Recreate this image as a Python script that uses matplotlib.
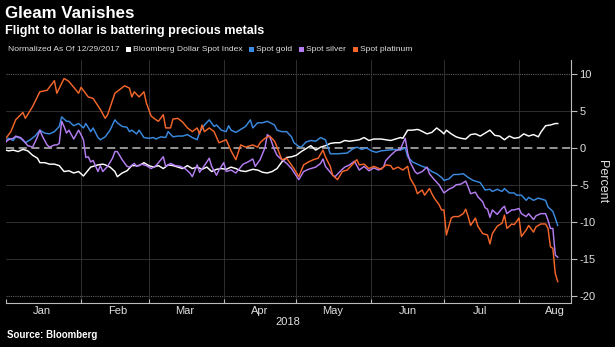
import matplotlib
matplotlib.use("Agg")
import matplotlib.pyplot as plt
import matplotlib.dates as mdates
from matplotlib.patches import Rectangle
import pandas as pd

# Series: calendar-day offsets from 2018-01-01 and percent change vs 12/29/2017
dollar_day = [-3, 1, 3, 5, 7, 9, 11, 13, 14, 16, 18, 20, 22, 24, 26, 28, 30, 32, 34, 35, 38, 40, 41, 43, 45,
              46, 48, 50, 52, 53, 55, 57, 59, 61, 63, 65, 67, 69, 71, 73, 75, 77, 79, 81, 83, 85, 87, 89, 91,
              93, 95, 97, 99, 102, 104, 106, 108, 110, 112, 114, 116, 118, 120, 122, 124, 126, 128, 130, 132,
              134, 136, 138, 140, 142, 144, 146, 148, 150, 152, 155, 157, 159, 161, 163, 164, 166, 168, 170,
              171, 174, 176, 178, 180, 181, 182, 184, 186, 188, 190, 192, 194, 196, 198, 200, 202, 204, 206,
              208, 210, 212, 214, 216, 218, 220, 221, 223, 225, 227, 228]
dollar_pct = [0, -0.4, -0.3, -0.5, -0.2, -0.4, -1.0, -1.4, -2.0, -2.0, -2.2, -2.2, -2.4, -3.2, -3.1, -3.4,
              -3.2, -3.8, -3.0, -2.6, -2.3, -2.2, -2.3, -2.6, -3.2, -3.9, -3.4, -3.1, -2.4, -2.4, -2.4, -2.0,
              -2.4, -2.6, -2.4, -2.8, -2.3, -2.4, -2.6, -2.8, -2.4, -2.8, -2.6, -2.9, -2.6, -3.2, -2.9, -2.8,
              -2.9, -2.6, -2.8, -3.1, -3.2, -2.9, -3.0, -3.3, -3.4, -3.2, -2.8, -1.9, -1.3, -1.2, -1.0, -0.5,
              -0.1, 0.3, -0.3, 0.1, 0.3, 0.6, 0.7, 0.7, 1.0, 0.9, 1.0, 1.1, 1.4, 1.0, 1.2, 1.2, 1.1, 1.0, 1.2,
              1.4, 1.3, 2.4, 2.4, 2.5, 2.4, 1.9, 2.1, 2.7, 2.2, 1.9, 2.4, 1.9, 1.5, 1.3, 1.2, 1.8, 1.9, 1.6,
              2.0, 2.4, 1.7, 1.6, 1.1, 1.6, 1.3, 1.4, 1.9, 1.6, 1.8, 1.5, 2.1, 3.0, 3.1, 3.3, 3.3]

gold_day = [-3, 1, 3, 4, 6, 8, 10, 12, 14, 16, 18, 20, 22, 23, 25, 26, 28, 30, 32, 33, 35, 36, 38, 39, 41,
            43, 45, 46, 48, 50, 51, 52, 54, 55, 57, 59, 61, 62, 64, 66, 67, 69, 71, 73, 75, 77, 79, 80, 82,
            84, 86, 87, 89, 91, 92, 93, 95, 97, 99, 101, 102, 104, 106, 108, 111, 112, 114, 116, 118, 119,
            121, 122, 124, 126, 128, 130, 132, 134, 137, 141, 143, 145, 147, 149, 151, 153, 155, 158, 161,
            163, 165, 166, 168, 170, 172, 174, 176, 178, 180, 181, 183, 185, 187, 189, 191, 193, 196, 198,
            200, 201, 203, 205, 206, 208, 210, 211, 213, 215, 216, 218, 220, 222, 223, 224, 226, 227, 228]
gold_pct = [0, 1.3, 1.0, 1.5, 1.3, 0.7, 1.1, 1.6, 2.4, 2.0, 1.9, 2.2, 2.9, 4.2, 3.6, 3.6, 3.0, 3.3, 2.7,
            3.3, 2.2, 2.7, 1.4, 1.1, 1.5, 2.4, 3.8, 3.4, 2.9, 2.8, 2.2, 2.4, 1.9, 2.4, 1.4, 1.3, 1.4, 1.2,
            1.5, 1.4, 2.2, 1.5, 1.6, 1.6, 1.8, 1.4, 1.1, 2.1, 3.1, 3.8, 2.9, 3.1, 2.4, 2.2, 3.0, 2.4, 2.1,
            2.5, 2.9, 3.8, 2.7, 3.4, 3.4, 3.6, 3.1, 2.4, 2.2, 2.2, 1.5, 0.7, 0.2, 0.1, 0.8, 1.0, 0.9, 1.4,
            1.1, -0.8, -0.8, -0.7, -0.2, 0.1, -0.2, 0.0, -0.4, -0.6, -0.4, -0.3, -0.2, -0.3, 0.0, -1.2, -1.9,
            -2.2, -2.5, -2.7, -3.2, -3.5, -4.0, -4.4, -4.2, -3.6, -3.6, -3.5, -4.0, -4.4, -4.7, -5.7, -5.6,
            -5.9, -5.6, -5.9, -5.5, -6.1, -6.1, -6.4, -6.4, -7.1, -6.7, -7.1, -6.8, -7.0, -7.1, -8.0, -8.6,
            -9.5, -10.5]

silver_day = [-3, 1, 3, 4, 6, 7, 9, 11, 13, 14, 15, 17, 18, 20, 21, 22, 23, 24, 25, 26, 28, 30, 31, 32, 33,
              34, 35, 36, 38, 39, 40, 42, 44, 45, 46, 48, 50, 51, 53, 54, 56, 58, 60, 62, 64, 65, 66, 68, 70,
              72, 74, 76, 77, 79, 80, 82, 84, 85, 87, 88, 90, 91, 93, 95, 96, 98, 100, 102, 103, 105, 107,
              108, 109, 111, 112, 114, 116, 118, 121, 123, 125, 128, 130, 131, 132, 135, 136, 138, 140, 142,
              144, 146, 148, 150, 152, 154, 156, 157, 159, 161, 163, 164, 165, 166, 167, 169, 170, 172, 174,
              175, 177, 179, 181, 183, 185, 186, 188, 190, 191, 192, 194, 195, 197, 198, 199, 200, 201, 203,
              205, 206, 207, 209, 210, 212, 213, 215, 216, 218, 219, 221, 223, 224, 225, 226, 227, 228]
silver_pct = [0, 1.1, 1.3, 1.6, 1.4, 1.1, 0.3, 0.1, 1.5, 2.4, 1.6, 0.4, 0.1, 0.4, 0.4, 0.6, 3.6, 2.9, 2.0,
              2.4, 1.2, 2.4, 1.8, 1.1, -1.3, -1.2, -1.9, -1.7, -3.2, -2.4, -3.2, -2.5, -1.4, -0.5, -0.5, -1.6,
              -2.5, -2.6, -2.1, -2.5, -2.2, -2.4, -2.8, -2.4, -1.6, -1.2, -2.5, -2.1, -2.4, -2.5, -2.8, -3.4,
              -3.9, -2.3, -3.3, -2.4, -1.4, -2.5, -3.7, -3.0, -2.0, -3.2, -3.0, -3.4, -3.0, -2.2, -1.9, -1.5,
              -2.5, -1.6, 0.0, 1.8, 1.5, -0.3, -1.0, -1.6, -2.1, -2.8, -4.3, -3.2, -2.9, -2.6, -2.1, -1.5,
              -2.5, -3.7, -3.9, -3.2, -2.6, -2.3, -1.8, -3.0, -2.5, -3.1, -2.7, -3.0, -2.6, -1.7, -1.0, -0.4,
              -0.2, 0.6, 1.3, -0.7, -1.9, -3.2, -3.5, -3.2, -2.6, -3.5, -4.3, -5.0, -6.1, -5.6, -5.3, -5.0,
              -4.9, -4.5, -5.3, -6.2, -6.0, -6.6, -7.3, -8.1, -8.3, -9.4, -8.4, -9.0, -8.2, -7.9, -8.9, -8.4,
              -8.4, -8.2, -8.9, -9.3, -8.9, -9.7, -9.2, -8.9, -8.9, -9.8, -10.9, -10.9, -14.5, -14.8]

platinum_day = [-3, 2, 4, 7, 8, 11, 14, 17, 20, 21, 24, 26, 30, 31, 34, 36, 39, 41, 42, 45, 49, 51, 52, 53,
                55, 57, 58, 60, 62, 63, 65, 66, 68, 69, 71, 73, 75, 77, 79, 80, 81, 82, 84, 86, 88, 91, 93,
                95, 97, 99, 102, 104, 105, 107, 109, 111, 112, 114, 116, 119, 121, 123, 125, 127, 129, 131,
                132, 134, 135, 137, 139, 141, 143, 145, 146, 148, 150, 152, 155, 157, 159, 160, 162, 164, 166,
                167, 169, 170, 172, 173, 175, 176, 177, 179, 180, 181, 182, 184, 185, 187, 189, 190, 191, 192,
                194, 195, 197, 199, 200, 201, 203, 205, 206, 207, 209, 210, 212, 213, 215, 216, 218, 219, 221,
                223, 224, 225, 226, 227, 228]
platinum_pct = [0, 2.2, 3.8, 4.8, 4.0, 5.6, 7.6, 7.8, 9.1, 7.4, 9.4, 9.0, 7.4, 8.2, 6.9, 6.7, 5.2, 4.0, 4.5,
                7.4, 8.4, 8.1, 6.9, 7.6, 6.9, 7.6, 6.1, 4.3, 3.8, 3.6, 4.5, 2.7, 2.7, 3.9, 4.0, 3.5, 2.7, 2.2,
                2.7, 1.9, 3.1, 2.2, 2.7, 2.2, 0.7, 1.1, -0.4, -1.6, 0.4, 0.1, 0.4, 0.1, 0.7, 1.3, 1.6, 0.9,
                0.1, -1.6, -1.4, -2.8, -3.9, -2.3, -1.9, -1.6, -1.4, -0.3, -1.2, -2.5, -3.7, -4.3, -3.2, -3.0,
                -2.3, -1.6, -2.3, -2.2, -2.8, -2.5, -2.9, -2.3, -2.4, -2.9, -2.6, -3.0, -2.5, -4.1, -5.2, -6.2,
                -5.7, -6.4, -5.5, -6.2, -6.8, -7.7, -8.4, -8.4, -11.8, -9.5, -9.3, -9.3, -8.9, -8.3, -9.3,
                -10.5, -9.5, -10.6, -11.6, -11.8, -13.0, -11.6, -10.6, -10.2, -9.1, -10.9, -10.3, -10.4, -9.5,
                -12.0, -11.1, -10.5, -11.4, -10.7, -10.3, -10.3, -10.9, -13.4, -13.6, -17.0, -18.1]

series_names = ["Bloomberg Dollar Spot Index", "Spot gold", "Spot silver", "Spot platinum"]
series_colors = ["#ffffff", "#3a8ae0", "#b47ef2", "#f4662a"]
y_ticks = [10, 5, 0, -5, -10, -15, -20]

BASE = pd.Timestamp("2018-01-01")


def to_dates(days):
    return [BASE + pd.Timedelta(days=d) for d in days]


plt.rcParams["font.family"] = ["Liberation Sans", "DejaVu Sans"]

BG = "#000000"
GRID = "#363636"
TXT = "#e0e0e0"
W, H = 615, 347

fig = plt.figure(figsize=(W / 100, H / 100), dpi=100, facecolor=BG)
ax = fig.add_axes([6 / W, 1 - 303 / H, 565 / W, 243 / H])
ax.set_facecolor(BG)

for days, vals, col in zip([dollar_day, gold_day, silver_day, platinum_day],
                           [dollar_pct, gold_pct, silver_pct, platinum_pct], series_colors):
    ax.plot(to_dates(days), vals, color=col, lw=1.05, zorder=3)

ax.set_xlim(BASE, BASE + pd.Timedelta(days=233.5))
ax.set_ylim(-21.0, 11.9)

# horizontal gridlines; zero line dashed, outer ones dotted
for v in y_ticks:
    if v == 0:
        ax.axhline(v, color="#a0a0a0", lw=1.3, ls=(0, (4.5, 2.5)), zorder=2)
    elif v in (10, -20):
        ax.axhline(v, color="#606060", lw=0.8, ls=(0, (1, 1)), zorder=1)
    else:
        ax.axhline(v, color=GRID, lw=0.6, zorder=1)

month_starts = pd.date_range("2018-01-01", "2018-08-01", freq="MS")
for m in month_starts[1:]:
    ax.axvline(m, color=GRID, lw=0.6, zorder=1)

# x axis: ticks at month boundaries, labels mid-month
ax.xaxis.set_major_locator(mdates.MonthLocator())
ax.xaxis.set_major_formatter(plt.NullFormatter())
ax.xaxis.set_minor_locator(mdates.MonthLocator(bymonthday=16))
ax.xaxis.set_minor_formatter(mdates.DateFormatter("%b"))
ax.tick_params(axis="x", which="major", length=3, direction="in", color="#bbbbbb", width=0.8)
ax.tick_params(axis="x", which="minor", length=0, labelsize=8, labelcolor=TXT, pad=2.5)

# y axis on the right
ax.yaxis.tick_right()
ax.yaxis.set_label_position("right")
ax.set_yticks(y_ticks)
ax.set_yticklabels([str(v) for v in y_ticks])
ax.tick_params(axis="y", length=4, width=0.8, color="#bbbbbb", labelsize=8, labelcolor=TXT, pad=2)
ax.set_ylabel("Percent", rotation=270, labelpad=9, color=TXT, fontsize=9)

for side in ("top", "left"):
    ax.spines[side].set_visible(False)
for side in ("right", "bottom"):
    ax.spines[side].set_color("#bbbbbb")
    ax.spines[side].set_linewidth(0.8)

fig.text(288 / W, 1 - 322 / H, "2018", color=TXT, fontsize=8, ha="center", va="center")

# titles
fig.text(5 / W, 1 - 14 / H, "Gleam Vanishes", color="#ffffff", fontsize=12.2,
         fontweight="bold", ha="left", va="center")
fig.text(5 / W, 1 - 31 / H, "Flight to dollar is battering precious metals", color="#ffffff",
         fontsize=9.1, fontweight="bold", ha="left", va="center")

# legend row laid out left to right from measured text widths
renderer = fig.canvas.get_renderer()
row_y = 1 - 49.5 / H
lead = fig.text(8 / W, row_y, "Normalized As Of 12/29/2017", color=TXT, fontsize=6.1,
                ha="left", va="center")
x = lead.get_window_extent(renderer).x1 + 6
for name, col in zip(series_names, series_colors):
    fig.patches.append(Rectangle((x / W, row_y - 2.5 / H), 5 / W, 5 / H, transform=fig.transFigure,
                                 facecolor=col, edgecolor="none"))
    t = fig.text((x + 7) / W, row_y, name, color=TXT, fontsize=6.1, ha="left", va="center")
    x = t.get_window_extent(renderer).x1 + 7

fig.text(7 / W, 1 - 335 / H, "Source: Bloomberg", color="#ffffff", fontsize=7,
         fontweight="bold", ha="left", va="center")

fig.savefig("out.png", dpi=100, facecolor=BG)
